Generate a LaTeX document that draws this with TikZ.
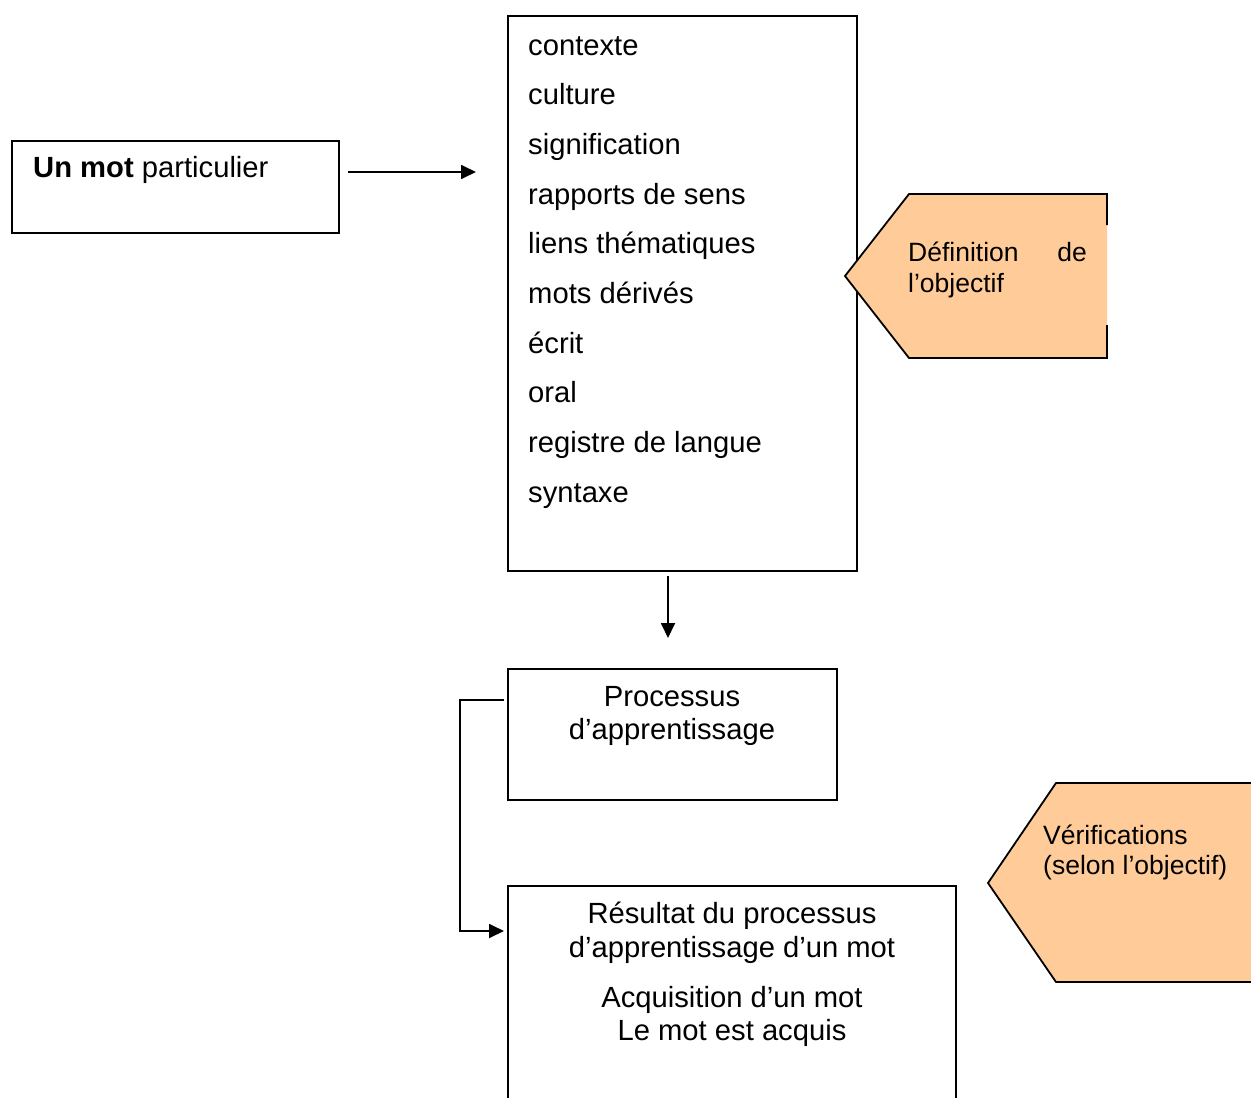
\documentclass[tikz,border=0pt]{standalone}
\usepackage{fontspec}
\setmainfont{Liberation Sans}
\usetikzlibrary{arrows.meta}
\definecolor{peach}{HTML}{FFCC99}
\tikzset{
  box/.style={draw=black, line width=1.8pt, inner sep=0pt, outer sep=0pt, anchor=north west},
  txt/.style={inner sep=0pt, font=\fontsize{29.2}{33}\selectfont},
  tagtxt/.style={inner sep=0pt, font=\fontsize{26.5}{30}\selectfont},
  conn/.style={line width=1.8pt, -{Triangle[length=15pt,width=14pt]}},
  tag/.style={fill=peach, draw=black, line width=1.8pt, line join=miter}
}
\begin{document}
\begin{tikzpicture}[x=1pt,y=-1pt]
\useasboundingbox (0,0) rectangle (1251,1098);
\clip (0,0) rectangle (1251,1098);
\fill[white] (0,0) rectangle (1251,1098);

% boxes
\node[box, minimum width=327pt, minimum height=92pt] (mot) at (12,141) {};
\node[box, minimum width=349pt, minimum height=555pt] (liste) at (508,16) {};
\node[box, minimum width=329pt, minimum height=131pt] (proc) at (508,669) {};
\node[box, minimum width=448pt, minimum height=240pt] (res) at (508,886) {};

% texts
\node[txt, anchor=base west] (t0) at (33,177) {\textbf{Un mot} particulier};
\foreach \w [count=\i from 0] in {contexte, culture, signification, rapports de sens, liens thématiques, mots dérivés, écrit, oral, registre de langue, syntaxe}{
  \node[txt, anchor=base west] (l\i) at (528,{55+49.7*\i}) {\w};
}
\node[txt, anchor=base] (p1) at (672,706) {Processus};
\node[txt, anchor=base] (p2) at (672,739) {d’apprentissage};
\node[txt, anchor=base] (r1) at (732,923) {Résultat du processus};
\node[txt, anchor=base] (r2) at (732,957) {d’apprentissage d’un mot};
\node[txt, anchor=base] (r3) at (732,1007) {Acquisition d’un mot};
\node[txt, anchor=base] (r4) at (732,1040) {Le mot est acquis};

% connectors
\coordinate (a1) at (348,172);
\coordinate (a2) at (476,172);
\draw[conn] (a1) -- (a2);
\coordinate (b1) at (668,576);
\coordinate (b2) at (668,638);
\draw[conn] (b1) -- (b2);
\coordinate (c1) at (504,700);
\coordinate (c2) at (504,931);
\draw[conn] (c1) -| (460,815) |- (c2);

% tag 1: Définition de l'objectif
\fill[peach] (909,194) -- (1107,194) -- (1107,358) -- (909,358) -- (845,276) -- cycle;
\draw[line width=1.8pt, line join=miter] (1107,225) -- (1107,194) -- (909,194) -- (845,276) -- (909,358) -- (1107,358) -- (1107,325);
\node[tagtxt, anchor=base west] (d1) at (908,261) {Définition};
\node[tagtxt, anchor=base east] (d2) at (1087,261) {de};
\node[tagtxt, anchor=base west] (d3) at (908,292) {l’objectif};

% tag 2: Vérifications
\draw[tag] (1270,783) -- (1056,783) -- (988,883) -- (1056,982) -- (1270,982);
\node[tagtxt, anchor=base west] (v1) at (1043,844) {Vérifications};
\node[tagtxt, anchor=base west] (v2) at (1043,874) {(selon l’objectif)};
\end{tikzpicture}
\end{document}
